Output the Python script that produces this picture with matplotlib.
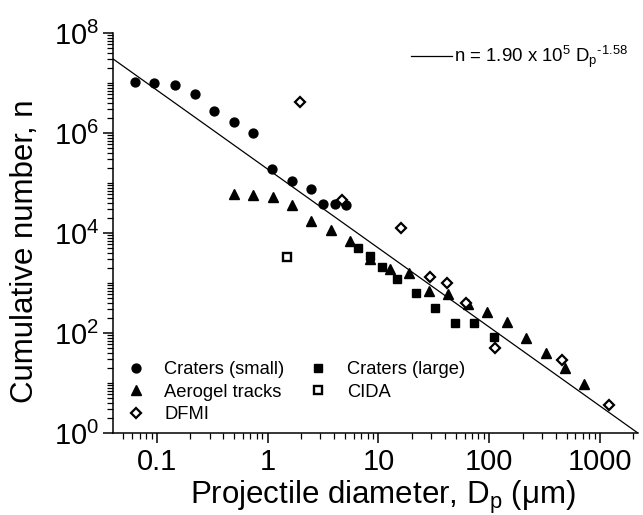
import numpy as np
import matplotlib
matplotlib.use("Agg")
import matplotlib.pyplot as plt
from matplotlib.ticker import LogLocator, FixedLocator, FuncFormatter, NullFormatter
from matplotlib.lines import Line2D

plt.rcParams['font.family'] = ['Liberation Sans', 'DejaVu Sans']
plt.rcParams['mathtext.fontset'] = 'custom'
plt.rcParams['mathtext.rm'] = 'Liberation Sans'
plt.rcParams['mathtext.it'] = 'Liberation Sans'
plt.rcParams['mathtext.bf'] = 'Liberation Sans:bold'

# ---- data ----
small_d = [0.0633, 0.0946, 0.145, 0.222, 0.329, 0.495, 0.735, 1.10, 1.65, 2.45, 3.15, 4.04, 5.14]
small_n = [1.06e7, 1.01e7, 9.25e6, 6.1e6, 2.79e6, 1.68e6, 1.0e6, 1.9e5, 1.1e5, 7.5e4, 3.75e4, 3.75e4, 3.7e4]

aerogel_d = [0.499, 0.745, 1.11, 1.67, 2.48, 3.74, 5.59, 8.41, 12.7, 19.0, 28.5, 42.9, 64.1, 96.2,
             144, 215, 324, 481, 723]
aerogel_n = [5.94e4, 5.75e4, 5.13e4, 3.63e4, 1.74e4, 1.15e4, 7.0e3, 2.98e3, 1.88e3, 1.56e3, 698, 594,
             384, 265, 168, 78.3, 39.3, 19.7, 9.55]

large_d = [6.56, 8.41, 10.8, 14.6, 21.9, 32.5, 48.7, 73.1, 111]
large_n = [5.08e3, 3.47e3, 2.12e3, 1.22e3, 640, 321, 161, 161, 83.2]

cida_d = [1.49]
cida_n = [3.36e3]

dfmi_d = [1.96, 4.70, 16.0, 29.3, 41.4, 61.9, 112, 452, 1199]
dfmi_n = [4.11e6, 4.5e4, 1.26e4, 1.30e3, 986, 404, 50.1, 28.8, 3.68]

fit_coef = 1.90e5
fit_exp = -1.58

x_ticks = [0.1, 1, 10, 100, 1000]
x_ticklabels = ['0.1', '1', '10', '100', '1000']
y_ticks = [1e0, 1e2, 1e4, 1e6, 1e8]

# ---- figure ----
fig = plt.figure(figsize=(6.43, 5.15), dpi=100)
ax = fig.add_axes([113/643, 1-433/515, (638-113)/643, (433-33)/515])

ax.set_xscale('log')
ax.set_yscale('log')
ax.set_xlim(0.0403, 2200)
ax.set_ylim(1, 1e8)

xf = np.logspace(np.log10(0.0403), np.log10(2200), 200)
ax.plot(xf, fit_coef * xf ** fit_exp, color='black', lw=0.9, zorder=1)

ax.plot(small_d, small_n, 'o', color='black', ms=6.4, ls='none', label='Craters (small)', zorder=3)
ax.plot(aerogel_d, aerogel_n, '^', color='black', ms=6.7, ls='none', label='Aerogel tracks', zorder=3)
ax.plot(dfmi_d, dfmi_n, 'D', mfc='white', mec='black', mew=1.6, ms=4.9, ls='none', label='DFMI', zorder=4)
ax.plot(large_d, large_n, 's', color='black', ms=5.6, ls='none', label='Craters (large)', zorder=3)
ax.plot(cida_d, cida_n, 's', mfc='white', mec='black', mew=1.7, ms=5.8, ls='none', label='CIDA', zorder=3)

for s in ['top', 'right']:
    ax.spines[s].set_visible(False)
for s in ['left', 'bottom']:
    ax.spines[s].set_linewidth(1.1)

ax.xaxis.set_major_locator(FixedLocator(x_ticks))
ax.set_xticklabels(x_ticklabels)
ax.xaxis.set_minor_locator(LogLocator(base=10, subs=np.arange(2, 10), numticks=20))
ax.xaxis.set_minor_formatter(NullFormatter())

ax.yaxis.set_major_locator(FixedLocator(y_ticks))
ax.yaxis.set_major_formatter(FuncFormatter(lambda v, p: r'$\mathregular{10^{%d}}$' % int(round(np.log10(v)))))
ax.yaxis.set_minor_locator(LogLocator(base=10, subs=np.arange(1, 10), numticks=20))
ax.yaxis.set_minor_formatter(NullFormatter())

ax.tick_params(axis='both', which='major', direction='out', length=7, width=1.1, labelsize=21)
ax.tick_params(axis='both', which='minor', direction='out', length=4, width=0.9)
ax.tick_params(axis='x', which='major', pad=4)
ax.tick_params(axis='y', which='major', pad=3)

fig.text(383/643, 1-497/515, r'Projectile diameter, D$_{\mathregular{p}}$ (μm)', fontsize=22.5,
         ha='center', va='center')
fig.text(25/643, 1-251/515, 'Cumulative number, n', fontsize=22.5, rotation=90,
         ha='center', va='center')

leg = ax.legend(loc='lower left', bbox_to_anchor=(-0.004, -0.014), ncol=2, frameon=False, fontsize=13.2,
                handlelength=1.0, handletextpad=1.05, columnspacing=1.35, labelspacing=0.3,
                borderaxespad=0.45, numpoints=1)
ax.add_artist(leg)

fit_handle = Line2D([], [], color='black', lw=0.9)
ax.legend([fit_handle], [r'n = 1.90 x 10$^{\mathregular{5}}$ D$_{\mathregular{p}}{}^{\mathregular{\text{-1.58}}}$'],
          loc='upper right', bbox_to_anchor=(1.003, 1.0), frameon=False, fontsize=13.4,
          handlelength=2.2, handletextpad=0.15, borderaxespad=0.2)

fig.savefig('out.png', dpi=100)
